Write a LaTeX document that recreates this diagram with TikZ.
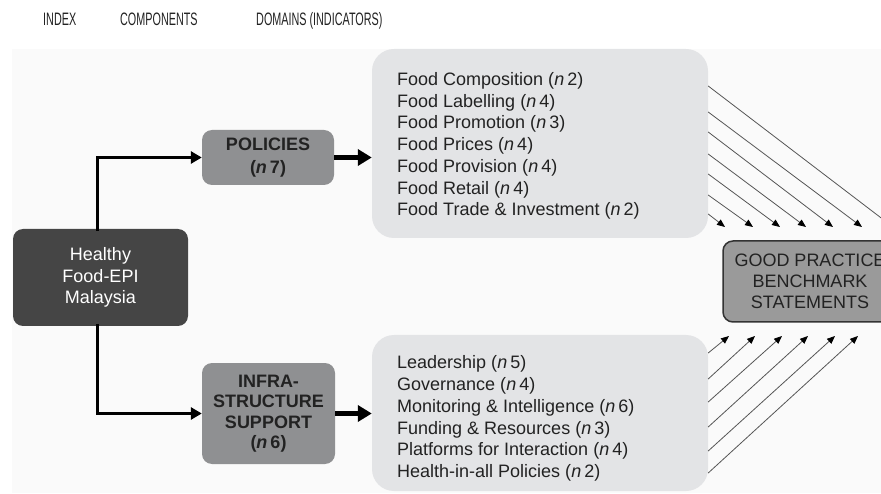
\documentclass[tikz,border=0pt]{standalone}
\usepackage{fontspec}
\setmainfont{Liberation Sans}
\usetikzlibrary{arrows.meta}
\definecolor{panel}{HTML}{FAFAFA}
\definecolor{dombg}{HTML}{E3E4E6}
\definecolor{darkbox}{HTML}{454545}
\definecolor{compbox}{HTML}{8F9092}
\definecolor{goodbox}{HTML}{9A9A9A}
\definecolor{goodline}{HTML}{333333}
\definecolor{thin}{HTML}{555555}
\definecolor{txt}{HTML}{222222}
\tikzset{
  titletext/.style={anchor=base west, inner sep=0pt, font=\fontsize{18}{20}\selectfont, text=txt},
  idxbox/.style={fill=darkbox, rounded corners=10pt, inner sep=0pt, text=white, align=center,
    font=\fontsize{18}{21.7}\selectfont},
  compboxstyle/.style={fill=compbox, rounded corners=10pt, inner sep=0pt, text=txt, align=center},
  dombox/.style={fill=dombg, rounded corners=22pt, inner sep=0pt},
  domtext/.style={anchor=west, inner sep=0pt, align=left, text=txt, font=\fontsize{18}{21.7}\selectfont},
  goodstyle/.style={fill=goodbox, draw=goodline, line width=1.5pt, rounded corners=10pt, inner sep=0pt,
    text=txt, align=center, font=\fontsize{18}{21}\selectfont},
  elbow/.style={line width=3pt, -{Triangle[length=11pt,width=12pt]}},
  thick arrow/.style={line width=5pt, -{Triangle[length=14pt,width=16pt]}},
  thin arrow/.style={line width=0.8pt, draw=thin, -{Triangle[length=8pt,width=6.5pt,fill=black,color=black]}},
}
\begin{document}
\begin{tikzpicture}[x=1pt,y=-1pt]
\path[use as bounding box, clip] (0,0) rectangle (881,494);
\fill[panel] (12,49) rectangle (881,493);

% titles
\node[titletext] (tindex) at (43,25.5) {\scalebox{0.6}[1]{INDEX}};
\node[titletext] (tcomp) at (120,25.5) {\scalebox{0.6}[1]{COMPONENTS}};
\node[titletext] (tdom) at (256,25.5) {\scalebox{0.6}[1]{DOMAINS (INDICATORS)}};

% domain boxes
\node[dombox, minimum width=336pt, minimum height=189pt] (topdom) at (540,143.5) {};
\node[dombox, minimum width=336pt, minimum height=156pt] (botdom) at (540,413) {};
\node[domtext] (toptext) at (397,146) {Food Composition (\textit{n}\,2)\\
Food Labelling (\textit{n}\,4)\\
Food Promotion (\textit{n}\,3)\\
Food Prices (\textit{n}\,4)\\
Food Provision (\textit{n}\,4)\\
Food Retail (\textit{n}\,4)\\
Food Trade \& Investment (\textit{n}\,2)};
\node[domtext] (bottext) at (397,418.5) {Leadership (\textit{n}\,5)\\
Governance (\textit{n}\,4)\\
Monitoring \& Intelligence (\textit{n}\,6)\\
Funding \& Resources (\textit{n}\,3)\\
Platforms for Interaction (\textit{n}\,4)\\
Health-in-all Policies (\textit{n}\,2)};

% index box
\node[idxbox, minimum width=175pt, minimum height=97pt] (healthy) at (100.5,277.5) {Healthy\\Food-EPI\\Malaysia};

% component boxes
\node[compboxstyle, minimum width=132pt, minimum height=55pt, font=\bfseries\fontsize{18}{23}\selectfont] (policies) at (268,157.5) {POLICIES\\(\textit{n}\,7)};
\node[compboxstyle, minimum width=133pt, minimum height=101pt, font=\bfseries\fontsize{18}{20.4}\selectfont] (infra) at (268.5,413.5) {INFRA-\\STRUCTURE\\SUPPORT\\(\textit{n}\,6)};

% good practice box
\node[goodstyle, minimum width=174pt, minimum height=81pt] (good) at (810,281.5) {GOOD PRACTICE\\BENCHMARK\\STATEMENTS};

% connectors
\draw[elbow] ([xshift=-3.5pt,yshift=-2pt]healthy.north) |- (policies.west);
\draw[elbow] ([xshift=-3.5pt,yshift=2pt]healthy.south) |- (infra.west);
\draw[thick arrow] (policies.east) -- (policies.east -| topdom.west);
\draw[thick arrow] (infra.east) -- (infra.east -| botdom.west);

% diagonal arrows from top domains
\foreach \sy/\ex in {86/893, 112/862, 132/833, 154/806, 174/780, 195/753, 214/725}{
  \draw[thin arrow] (topdom.east |- 0,\sy) -- (\ex,227);
}
% diagonal arrows from bottom domains
\foreach \sy/\ex in {353/729, 379/755, 402/782, 427/808, 451/835, 473/858}{
  \draw[thin arrow] (botdom.east |- 0,\sy) -- (\ex,336);
}
\end{tikzpicture}
\end{document}
